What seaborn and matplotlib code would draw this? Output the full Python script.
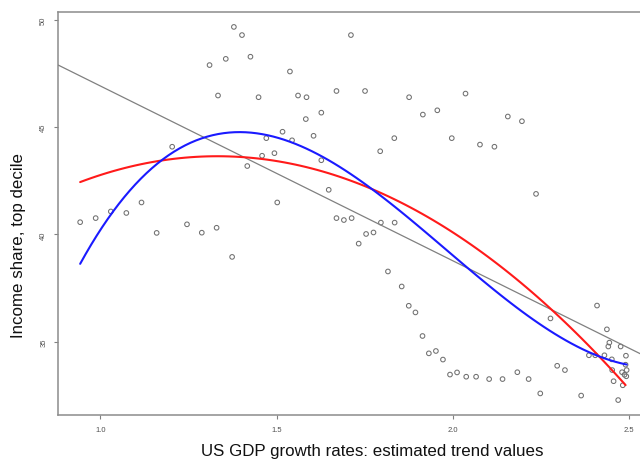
import numpy as np
import pandas as pd
import matplotlib
matplotlib.use('Agg')
import matplotlib.pyplot as plt
import seaborn as sns

# US GDP growth trend vs top decile income share
gdp_trend = [0.943, 0.987, 1.030, 1.074, 1.117, 1.160, 1.204, 1.246, 1.288, 1.310,
             1.330, 1.334, 1.356, 1.374, 1.379, 1.402, 1.417, 1.426, 1.449, 1.459,
             1.471, 1.494, 1.502, 1.517, 1.538, 1.544, 1.561, 1.583, 1.585, 1.605,
             1.627, 1.627, 1.648, 1.670, 1.670, 1.691, 1.711, 1.713, 1.733, 1.751,
             1.754, 1.775, 1.794, 1.796, 1.816, 1.834, 1.835, 1.855, 1.875, 1.876,
             1.894, 1.914, 1.915, 1.932, 1.952, 1.956, 1.972, 1.992, 1.997, 2.012,
             2.036, 2.038, 2.066, 2.077, 2.103, 2.118, 2.141, 2.156, 2.183, 2.196,
             2.215, 2.236, 2.248, 2.277, 2.296, 2.318, 2.364, 2.386, 2.404, 2.409,
             2.430, 2.437, 2.444, 2.441, 2.451, 2.452, 2.456, 2.469, 2.476, 2.482,
             2.491, 2.490, 2.493, 2.480, 2.487, 2.492]
top_decile = [40.57, 40.76, 41.07, 41.00, 41.49, 40.07, 44.09, 40.47, 40.08, 47.90,
              40.31, 46.48, 48.19, 38.95, 49.68, 49.30, 43.19, 48.29, 46.40, 43.67,
              44.49, 43.79, 41.49, 44.79, 47.60, 44.39, 46.48, 45.38, 46.40, 44.60,
              45.68, 43.46, 42.08, 46.69, 40.76, 40.67, 49.30, 40.76, 39.57, 46.69,
              40.02, 40.09, 43.88, 40.55, 38.27, 44.49, 40.55, 37.57, 36.67, 46.40,
              36.36, 35.26, 45.59, 34.45, 34.56, 45.79, 34.16, 33.46, 44.49, 33.56,
              46.57, 33.36, 33.36, 44.19, 33.25, 44.09, 33.25, 45.50, 33.57, 45.28,
              33.25, 41.89, 32.58, 36.08, 33.87, 33.67, 32.48, 34.36, 34.36, 36.68,
              34.36, 35.57, 34.95, 34.77, 34.17, 33.67, 33.15, 32.27, 34.77, 32.96,
              34.34, 33.92, 33.67, 33.57, 33.45, 33.38]

# red quadratic curve, values
red_x = [0.943, 1.170, 1.312, 1.454, 1.643, 1.765, 1.907, 2.021, 2.210, 2.295, 2.418, 2.490]
red_y = [42.43, 43.44, 43.64, 43.60, 42.82, 42.16, 40.98, 39.86, 37.52, 36.28, 34.33, 32.90]

x_ticks = [1.0, 1.5, 2.0, 2.5]
y_ticks = [35, 40, 45, 50]

df = pd.DataFrame({'gdp': gdp_trend, 'share': top_decile})
red = pd.DataFrame({'gdp': red_x, 'share': red_y})

sns.set_style('white')
plt.rcParams['font.family'] = ['Liberation Sans', 'DejaVu Sans']

fig = plt.figure(figsize=(6.4, 4.6), dpi=100)
ax = fig.add_axes([58.3 / 640, 44 / 460, 590.2 / 640, 403 / 460])

# R style 4% padding around data
xr = df.gdp.max() - df.gdp.min()
yr = df.share.max() - df.share.min()
xlim = (df.gdp.min() - 0.04 * xr, df.gdp.max() + 0.04 * xr)
ylim = (df.share.min() - 0.04 * yr, df.share.max() + 0.04 * yr)
ax.set_xlim(xlim)
ax.set_ylim(ylim)

sns.scatterplot(data=df, x='gdp', y='share', ax=ax, s=11, facecolor='none',
                edgecolor='#707070', linewidth=0.75, zorder=2)
sns.regplot(data=df, x='gdp', y='share', ax=ax, order=1, ci=None, scatter=False,
            truncate=False, line_kws={'color': '#808080', 'lw': 0.9, 'zorder': 3})
sns.regplot(data=red, x='gdp', y='share', ax=ax, order=2, ci=None, scatter=False,
            truncate=True, line_kws={'color': '#ff1a1a', 'lw': 1.5, 'zorder': 4})
sns.regplot(data=df, x='gdp', y='share', ax=ax, order=3, ci=None, scatter=False,
            truncate=True, line_kws={'color': '#1a1aff', 'lw': 1.5, 'zorder': 5})
ax.set_xlim(xlim)
ax.set_ylim(ylim)

ax.set_xticks(x_ticks)
ax.set_xticklabels(['%.1f' % t for t in x_ticks])
ax.set_yticks(y_ticks)
ax.set_yticklabels([str(t) for t in y_ticks], rotation=90, va='center')
ax.tick_params(axis='both', direction='out', length=3, width=0.8, color='#808080',
               labelsize=5.5, labelcolor='#505050', pad=5, bottom=True, left=True)

for s in ax.spines.values():
    s.set_color('#8c8c8c')
    s.set_linewidth(1.1)

ax.set_xlabel('US GDP growth rates: estimated trend values', fontsize=12.2,
              va='center', color='#111111')
ax.set_ylabel('Income share, top decile', fontsize=12.2, va='center', color='#111111')
ax.xaxis.set_label_coords(0.532, -0.089)
ax.yaxis.set_label_coords(-0.068, 0.424)

fig.savefig('out.png', dpi=100)
